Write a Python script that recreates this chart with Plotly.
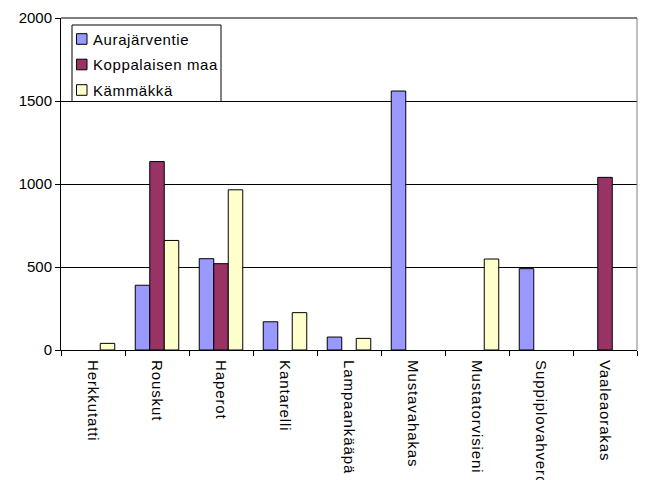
import plotly.graph_objects as go

# Mushroom species on the category axis
species = [
    "Herkkutatti", "Rouskut", "Haperot", "Kantarelli", "Lampaankääpä",
    "Mustavahakas", "Mustatorvisieni", "Suppiplovahvero", "Vaaleaorakas",
]

# Amounts per site (None = nothing found)
aurajarventie = [None, 390, 550, 170, 78, 1560, None, 490, None]
koppalaisen_maa = [None, 1135, 520, None, None, None, None, None, 1040]
kammakka = [40, 660, 965, 225, 70, None, 548, None, None]

series = [
    ("Aurajärventie", aurajarventie, "#9999FF"),
    ("Koppalaisen maa", koppalaisen_maa, "#993366"),
    ("Kämmäkkä", kammakka, "#FFFFCC"),
]

W, H = 647, 480
ML, MR, MT, MB = 61, 10, 18, 130
PW, PH = W - ML - MR, H - MT - MB


def px_x(x):
    return (x - ML) / PW


def px_y(y):
    return (H - MB - y) / PH


def spaced(text, em):
    return f'<span style="letter-spacing:{em}px">{text}</span>'


font = dict(family="Arial, Liberation Sans, sans-serif", size=15, color="black")

fig = go.Figure()
for name, values, color in series:
    fig.add_trace(go.Bar(
        x=species, y=values, name=name, showlegend=False,
        marker=dict(color=color, line=dict(color="black", width=1)),
    ))

fig.update_layout(
    width=W, height=H,
    margin=dict(l=ML, r=MR, t=MT, b=MB, autoexpand=False),
    paper_bgcolor="white", plot_bgcolor="white",
    font=font,
    barmode="group", bargap=0.32, bargroupgap=0,
    xaxis=dict(
        type="category", tickangle=90, tickson="boundaries",
        tickvals=species, ticktext=[spaced(s, 0.9) for s in species],
        ticks="outside", ticklen=5, tickcolor="black",
        ticklabelstandoff=6,
        showline=True, linecolor="black", linewidth=1,
        showgrid=False, automargin=False, tickfont=font,
    ),
    yaxis=dict(
        range=[0, 2000], dtick=500, tickformat="d",
        ticks="outside", ticklen=5, tickcolor="black",
        showline=True, linecolor="black", linewidth=1,
        showgrid=True, gridcolor="black", gridwidth=1,
        zeroline=False, automargin=False, tickfont=font,
    ),
)

# Plot-area frame: gray on the right, black along the top
fig.add_shape(type="line", xref="paper", yref="paper", x0=1, x1=1, y0=0, y1=1,
              line=dict(color="#808080", width=1))
fig.add_shape(type="line", xref="paper", yref="paper", x0=0, x1=1, y0=1, y1=1,
              line=dict(color="black", width=1))

# Legend box with a swatch and label per series
fig.add_shape(type="rect", xref="paper", yref="paper",
              x0=px_x(72), x1=px_x(221), y0=px_y(101.5), y1=px_y(25),
              fillcolor="white", line=dict(color="black", width=1), layer="above")
for i, (name, _, color) in enumerate(series):
    cy = 39 + i * 25.5
    fig.add_shape(type="rect", xref="paper", yref="paper",
                  x0=px_x(76.5), x1=px_x(87), y0=px_y(cy + 5.3), y1=px_y(cy - 5.3),
                  fillcolor=color, line=dict(color="black", width=1), layer="above")
    fig.add_annotation(xref="paper", yref="paper", x=px_x(91), y=px_y(cy),
                       xanchor="left", yanchor="middle", text=spaced(name, 0.6),
                       showarrow=False, font=font)

fig.write_html("out.html")
